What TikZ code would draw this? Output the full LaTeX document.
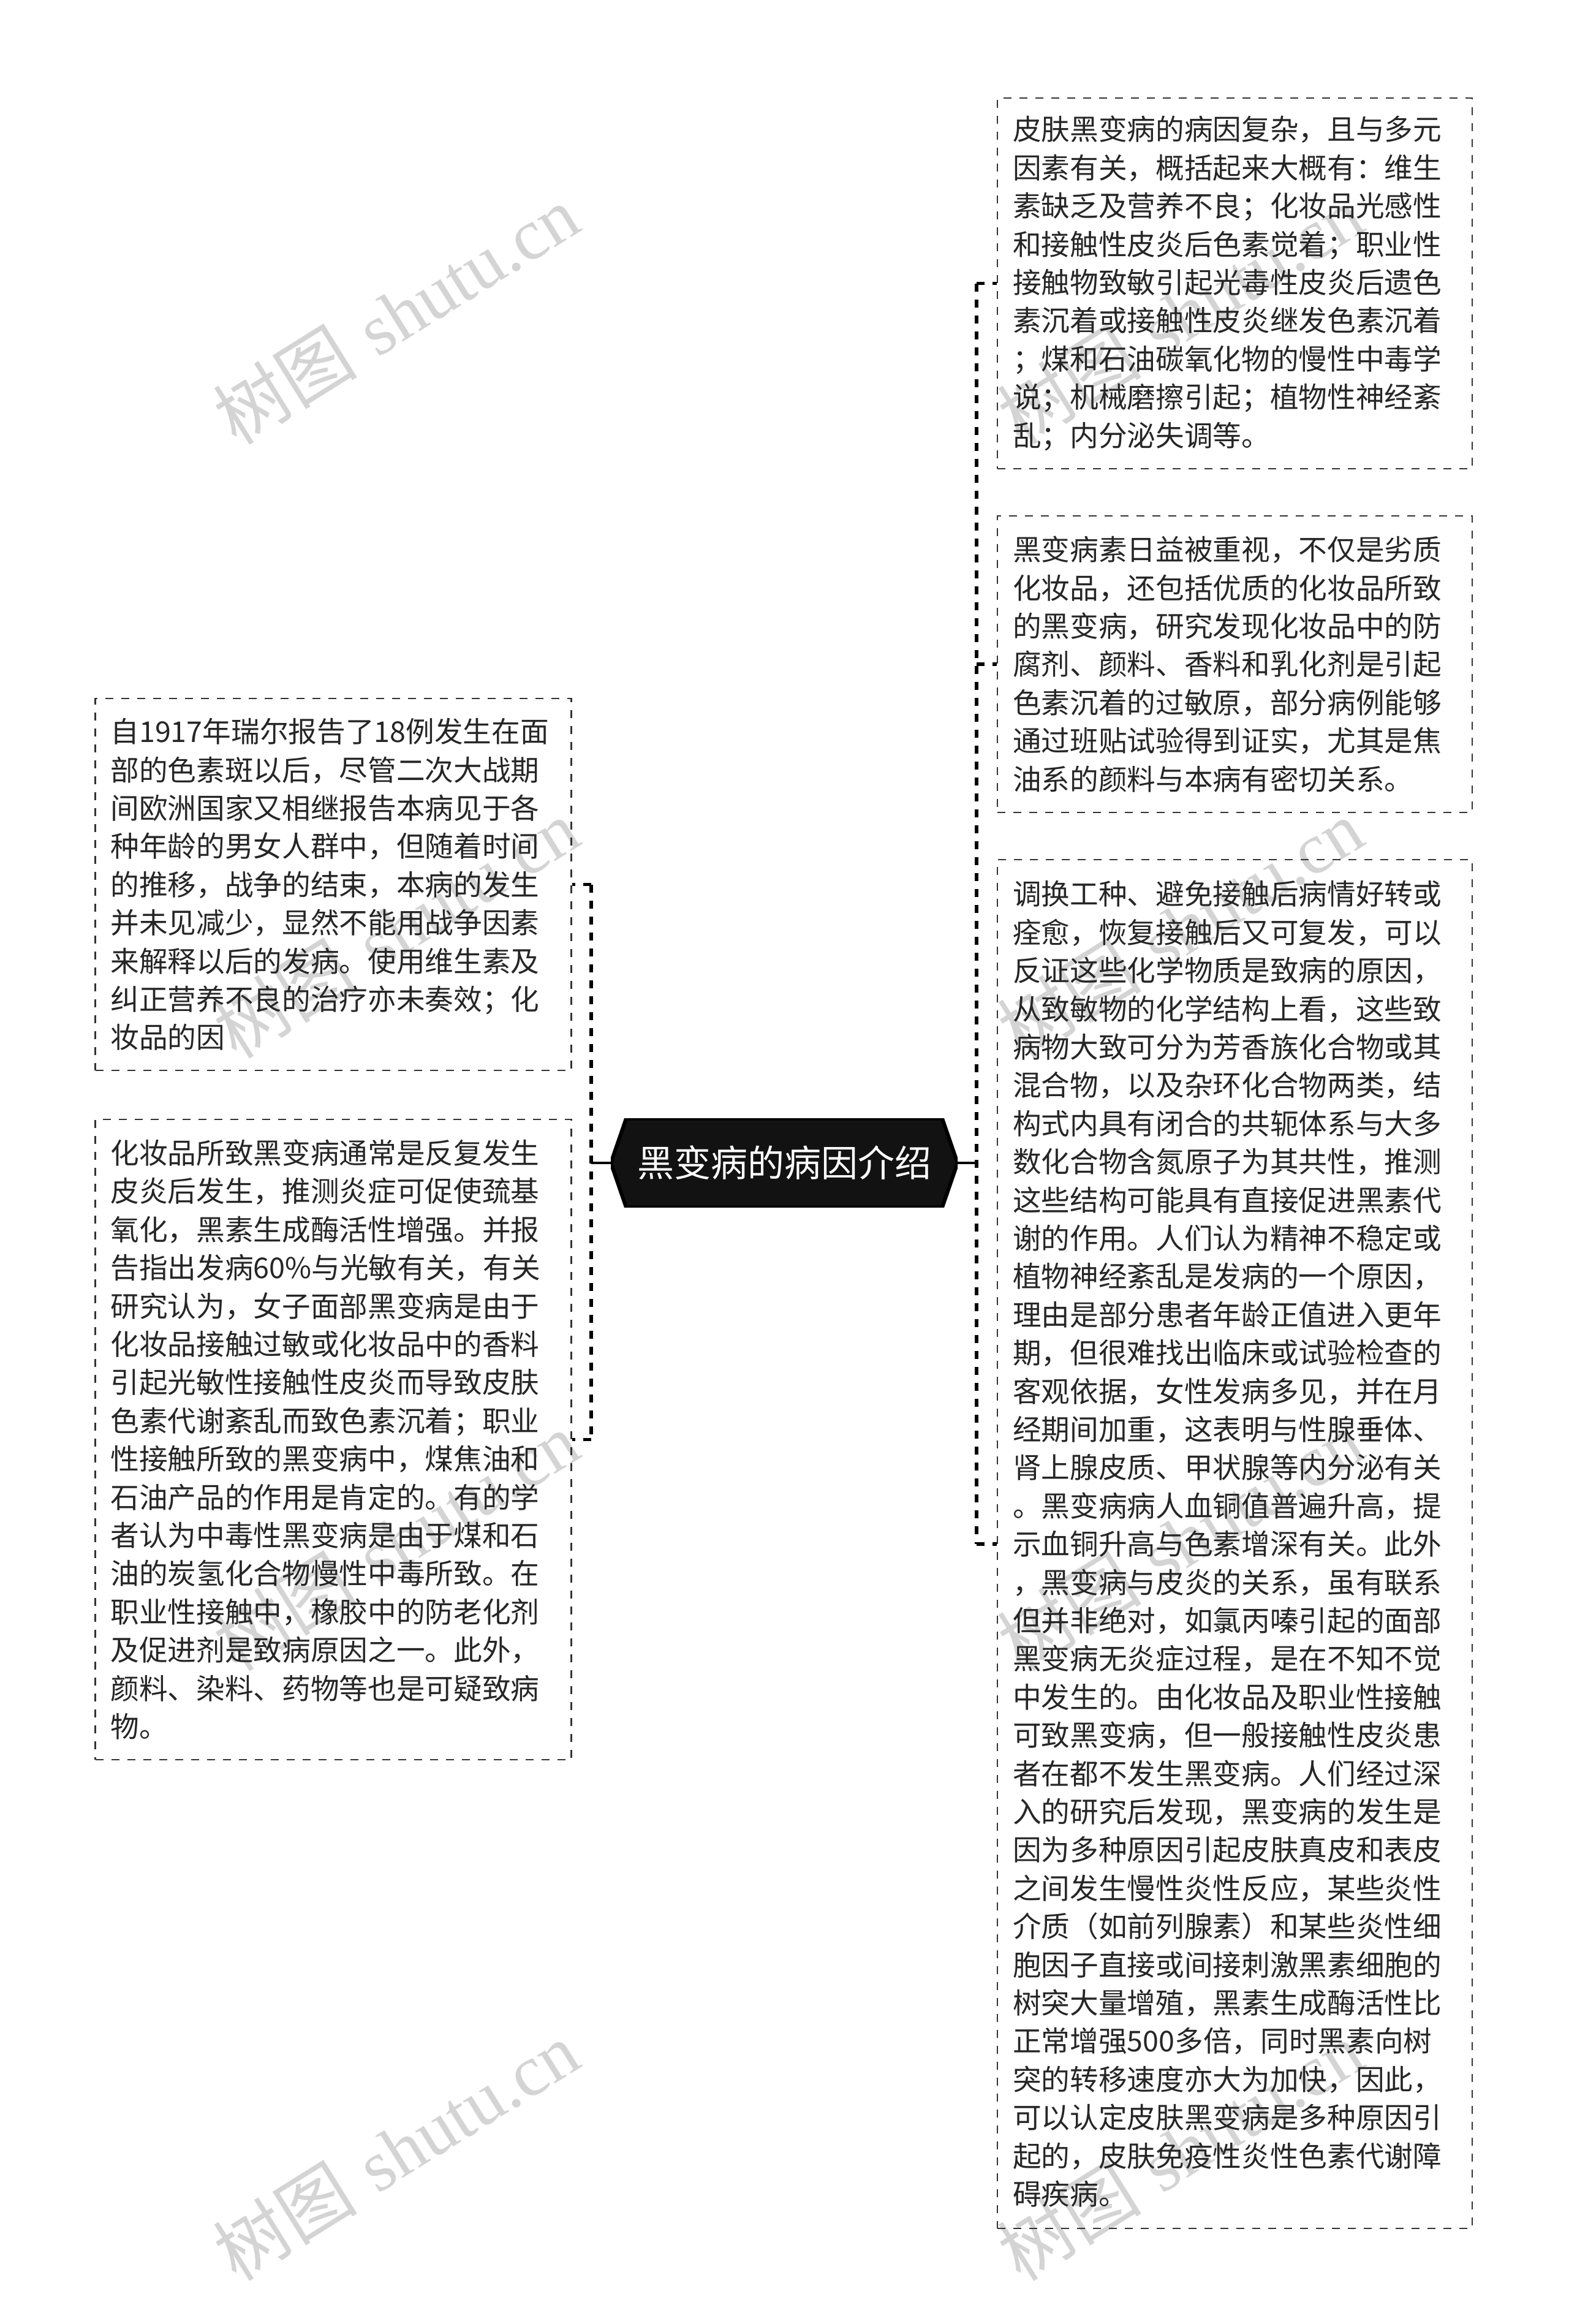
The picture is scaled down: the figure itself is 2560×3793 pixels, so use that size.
\documentclass[tikz,border=0pt]{standalone}
\usepackage{fontspec}
\newfontfamily\cjk{Noto Sans CJK SC}
\newfontfamily\wmserif{Liberation Serif}
\usetikzlibrary{calc}
\begin{document}
\begin{tikzpicture}[x=1pt,y=-1pt,
  box/.style={draw=black!80, dash pattern=on 13pt off 13pt, line width=2.6pt,
    minimum width=775pt, text width=725pt, inner xsep=25pt, inner ysep=0pt,
    align=left, text=black!85, font=\cjk\fontsize{46.67}{62.4}\selectfont},
  rootnode/.style={minimum width=566pt, minimum height=145pt, inner sep=0pt,
    text=white, font=\cjk\fontsize{60}{70}\selectfont,
    path picture={\filldraw[fill=black!93, draw=black, line width=6pt]
      (path picture bounding box.west)
      -- ([xshift=25pt]path picture bounding box.north west)
      -- ([xshift=-25pt]path picture bounding box.north east)
      -- (path picture bounding box.east)
      -- ([xshift=-25pt]path picture bounding box.south east)
      -- ([xshift=25pt]path picture bounding box.south west) -- cycle;}},
  stub/.style={draw=black, line width=4.5pt},
  bracket/.style={draw=black, line width=5.5pt, dash pattern=on 13pt off 13pt},
  wm/.style={text=black!17, rotate=32, font=\fontsize{118}{128}\selectfont, inner sep=0pt}
]
\useasboundingbox (0,0) rectangle (2560,3793);

% watermarks
\node[wm] (wm1) at (646,513) {{\cjk 树图} {\wmserif shutu.cn}};
\node[wm] (wm2) at (646,1515) {{\cjk 树图} {\wmserif shutu.cn}};
\node[wm] (wm3) at (646,2515) {{\cjk 树图} {\wmserif shutu.cn}};
\node[wm] (wm4) at (646,3510) {{\cjk 树图} {\wmserif shutu.cn}};
\node[wm] (wm5) at (1926,513) {{\cjk 树图} {\wmserif shutu.cn}};
\node[wm] (wm6) at (1926,1515) {{\cjk 树图} {\wmserif shutu.cn}};
\node[wm] (wm7) at (1926,2515) {{\cjk 树图} {\wmserif shutu.cn}};
\node[wm] (wm8) at (1926,3510) {{\cjk 树图} {\wmserif shutu.cn}};

% root
\node[rootnode] (root) at (1280,1898) {黑变病的病因介绍};

% right boxes
\node[box, minimum height=605pt] (r1) at (2015.5,462.5) {皮肤黑变病的病因复杂，且与多元\\因素有关，概括起来大概有：维生\\素缺乏及营养不良；化妆品光感性\\和接触性皮炎后色素觉着；职业性\\接触物致敏引起光毒性皮炎后遗色\\素沉着或接触性皮炎继发色素沉着\\；煤和石油碳氧化物的慢性中毒学\\说；机械磨擦引起；植物性神经紊\\乱；内分泌失调等。};

\node[box, minimum height=484pt] (r2) at (2015.5,1084) {黑变病素日益被重视，不仅是劣质\\化妆品，还包括优质的化妆品所致\\的黑变病，研究发现化妆品中的防\\腐剂、颜料、香料和乳化剂是引起\\色素沉着的过敏原，部分病例能够\\通过班贴试验得到证实，尤其是焦\\油系的颜料与本病有密切关系。};

\node[box, minimum height=2234pt] (r3) at (2015.5,2520) {调换工种、避免接触后病情好转或\\痊愈，恢复接触后又可复发，可以\\反证这些化学物质是致病的原因，\\从致敏物的化学结构上看，这些致\\病物大致可分为芳香族化合物或其\\混合物，以及杂环化合物两类，结\\构式内具有闭合的共轭体系与大多\\数化合物含氮原子为其共性，推测\\这些结构可能具有直接促进黑素代\\谢的作用。人们认为精神不稳定或\\植物神经紊乱是发病的一个原因，\\理由是部分患者年龄正值进入更年\\期，但很难找出临床或试验检查的\\客观依据，女性发病多见，并在月\\经期间加重，这表明与性腺垂体、\\肾上腺皮质、甲状腺等内分泌有关\\。黑变病病人血铜值普遍升高，提\\示血铜升高与色素增深有关。此外\\，黑变病与皮炎的关系，虽有联系\\但并非绝对，如氯丙嗪引起的面部\\黑变病无炎症过程，是在不知不觉\\中发生的。由化妆品及职业性接触\\可致黑变病，但一般接触性皮炎患\\者在都不发生黑变病。人们经过深\\入的研究后发现，黑变病的发生是\\因为多种原因引起皮肤真皮和表皮\\之间发生慢性炎性反应，某些炎性\\介质（如前列腺素）和某些炎性细\\胞因子直接或间接刺激黑素细胞的\\树突大量增殖，黑素生成酶活性比\\正常增强500多倍，同时黑素向树\\突的转移速度亦大为加快，因此，\\可以认定皮肤黑变病是多种原因引\\起的，皮肤免疫性炎性色素代谢障\\碍疾病。};

% left boxes
\node[box, minimum width=777pt, text width=727pt, minimum height=607pt] (l1) at (544,1443.5) {自1917年瑞尔报告了18例发生在面\\部的色素斑以后，尽管二次大战期\\间欧洲国家又相继报告本病见于各\\种年龄的男女人群中，但随着时间\\的推移，战争的结束，本病的发生\\并未见减少，显然不能用战争因素\\来解释以后的发病。使用维生素及\\纠正营养不良的治疗亦未奏效；化\\妆品的因};

\node[box, minimum width=777pt, text width=727pt, minimum height=1045pt] (l2) at (544,2349.5) {化妆品所致黑变病通常是反复发生\\皮炎后发生，推测炎症可促使巯基\\氧化，黑素生成酶活性增强。并报\\告指出发病60\%与光敏有关，有关\\研究认为，女子面部黑变病是由于\\化妆品接触过敏或化妆品中的香料\\引起光敏性接触性皮炎而导致皮肤\\色素代谢紊乱而致色素沉着；职业\\性接触所致的黑变病中，煤焦油和\\石油产品的作用是肯定的。有的学\\者认为中毒性黑变病是由于煤和石\\油的炭氢化合物慢性中毒所致。在\\职业性接触中，橡胶中的防老化剂\\及促进剂是致病原因之一。此外，\\颜料、染料、药物等也是可疑致病\\物。};

% connectors
\coordinate (lh) at (965,1898);
\coordinate (rh) at (1594,1898);
\draw[stub] (root.west) -- (lh);
\draw[stub] (root.east) -- (rh);
\draw[bracket] (l1.east -| lh) -- (l2.east -| lh);
\draw[bracket] (l1.east -| lh) -- (l1.east);
\draw[bracket] (l2.east -| lh) -- (l2.east);
\draw[bracket] (r1.west -| rh) -- (r3.west -| rh);
\draw[bracket] (r1.west -| rh) -- (r1.west);
\draw[bracket] (r2.west -| rh) -- (r2.west);
\draw[bracket] (r3.west -| rh) -- (r3.west);
\end{tikzpicture}
\end{document}
